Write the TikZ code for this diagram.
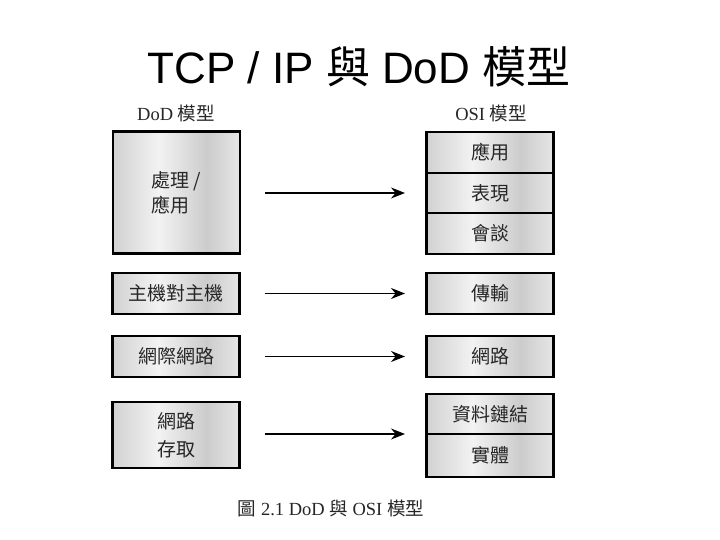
\documentclass[tikz,border=0pt]{standalone}
\usepackage{fontspec}
\setmainfont{Liberation Serif}
\newfontfamily\cjk{Noto Sans CJK TC}
\newfontfamily\titlefont{Liberation Sans}
\usetikzlibrary{arrows.meta}
\pgfdeclarehorizontalshading{boxshade}{100bp}{color(0bp)=(black!18); color(25bp)=(black!18); color(43bp)=(black!5); color(62bp)=(black!20); color(75bp)=(black!10); color(100bp)=(black!10)}
\tikzset{
  layer/.style={draw=black, line width=2.5pt, shading=boxshade, inner sep=0pt, outer sep=0pt,
    minimum width=127pt, font=\cjk\fontsize{19}{25}\selectfont, text=black!85},
  arr/.style={line width=1.4pt, -{Stealth[length=14pt,width=11pt]}, shorten <=25pt, shorten >=21.5pt},
  lbl/.style={font=\fontsize{18.5}{22}\selectfont, text=black!85, inner sep=0pt}
}
\begin{document}
\begin{tikzpicture}[x=1pt,y=-1pt]
\useasboundingbox (0,0) rectangle (720,540);
\node[font=\titlefont\fontsize{44}{48}\selectfont, inner sep=0pt] (title) at (359,67) {TCP / IP {\cjk 與} DoD {\cjk 模型}};
\node[lbl] (dodl) at (176,113) {DoD {\cjk 模型}};
\node[lbl] (osil) at (491,113) {OSI {\cjk 模型}};
% DoD
\node[layer, minimum height=122pt, align=left] (d1) at (176.5,192.5) {處理 /\\應用};
\node[layer, minimum height=41pt] (d2) at (176,293.5) {主機對主機};
\node[layer, minimum height=41pt] (d3) at (176,356.5) {網際網路};
\node[layer, minimum height=66pt, align=center, font=\cjk\fontsize{19}{28}\selectfont] (d4) at (176,435) {網路\\存取};
% OSI
\node[layer, minimum height=41pt] (o1) at (490,152.5) {應用};
\node[layer, minimum height=40pt] (o2) at (490,193) {表現};
\node[layer, minimum height=41pt] (o3) at (490,233.5) {會談};
\node[layer, minimum height=41pt] (o4) at (490,293.5) {傳輸};
\node[layer, minimum height=41pt] (o5) at (490,356.5) {網路};
\node[layer, minimum height=40pt] (o6) at (490,414) {資料鏈結};
\node[layer, minimum height=43pt] (o7) at (490,455.5) {實體};
% arrows
\draw[arr] (d1.east |- o2) -- (o2.west);
\draw[arr] (d2.east) -- (o4.west);
\draw[arr] (d3.east) -- (o5.west);
\draw[arr] (d4.east |- o6.south) -- (o6.south west);
\node[lbl] (cap) at (331,508) {{\cjk 圖} 2.1 DoD {\cjk 與} OSI {\cjk 模型}};
\end{tikzpicture}
\end{document}
